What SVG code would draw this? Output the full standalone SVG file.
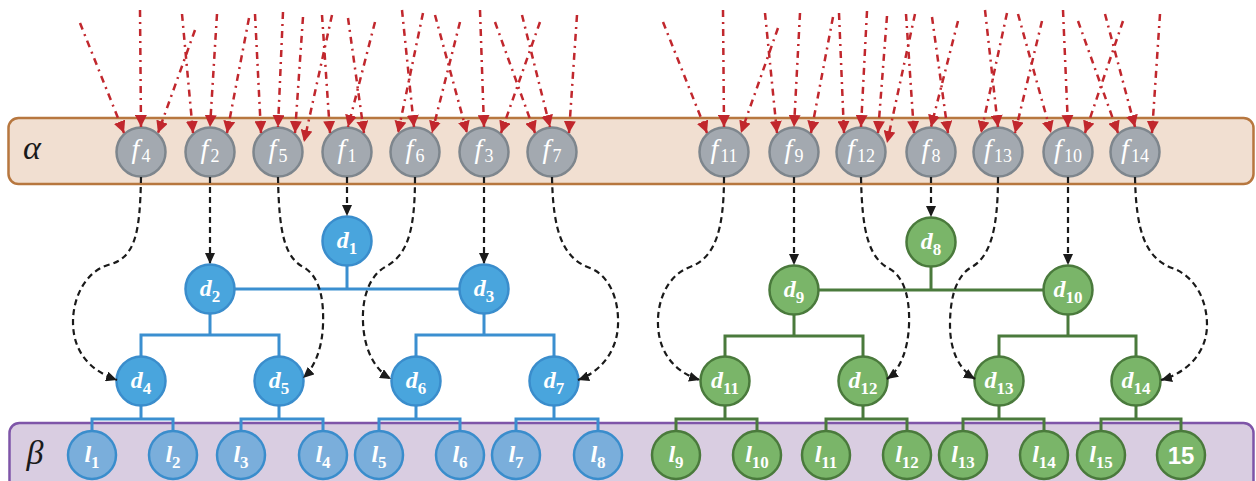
<svg xmlns="http://www.w3.org/2000/svg" width="1256" height="481" viewBox="0 0 1256 481">
<defs>
<marker id="ar" markerWidth="13" markerHeight="12" refX="12" refY="6" orient="auto" markerUnits="userSpaceOnUse"><path d="M0,0 L12,6 L0,12 z" fill="#c1272d"/></marker>
<marker id="ab" markerWidth="12" markerHeight="10" refX="11" refY="5" orient="auto" markerUnits="userSpaceOnUse"><path d="M0,0 L11,5 L0,10 z" fill="#1a1a1a"/></marker>
</defs>
<style>
.band-a{fill:#f1dfd1;stroke:#b7773f;stroke-width:2.5}
.band-b{fill:#d9cde1;stroke:#7e55a8;stroke-width:2.5}
.fn{fill:#a3a9b0;stroke:#7e868d;stroke-width:2.5}
.db{fill:#49a5dd;stroke:#3a8dcc;stroke-width:2.5}
.lb{fill:#7aaedb;stroke:#3a8dcc;stroke-width:2.5}
.dg{fill:#7ab569;stroke:#4a7a3c;stroke-width:2.5}
.tb{fill:none;stroke:#3b8fd0;stroke-width:3}
.tg{fill:none;stroke:#4a7a3c;stroke-width:3}
.red{fill:none;stroke:#c1272d;stroke-width:2.5;stroke-dasharray:7 5 2 5;marker-end:url(#ar)}
.blk{fill:none;stroke:#1a1a1a;stroke-width:2.2;stroke-dasharray:6 4;marker-end:url(#ab)}
text{font-family:"Liberation Serif","DejaVu Serif",serif;fill:#fff;text-anchor:middle}
.it{font-style:italic}
.fl{font-size:28px}
.fl .sub{font-size:18px;font-weight:normal;font-style:normal}
.dl{font-size:24px;font-weight:bold}
.sub{font-size:17px;font-style:normal}
.greek{fill:#1a1a1a;font-style:italic;font-size:34px}
.num{font-family:"Liberation Sans","DejaVu Sans",sans-serif;font-weight:bold;font-size:24px}
</style>

<g id="bands">
<rect id="alpha" class="band-a" x="8.5" y="118" width="1245" height="66" rx="10"/>
<rect id="beta" class="band-b" x="9.5" y="423" width="1244" height="72" rx="10"/>
<text class="greek" x="32" y="159">α</text>
<text class="greek" x="35" y="464">β</text>
</g>

<g id="tree-edges">
<path class="tb" d="M234.5,289 H459.5 M347,265.5 V289"/>
<path class="tb" d="M210,313.5 V335 M141,356.5 V335 H279 V356.5"/>
<path class="tb" d="M484,313.5 V335 M416,356.5 V335 H554 V356.5"/>
<path class="tb" d="M141,405.5 V419 M92,431 V419 H173 V431"/>
<path class="tb" d="M279,405.5 V419 M241,431 V419 H323 V431"/>
<path class="tb" d="M416,405.5 V419 M379,431 V419 H460 V431"/>
<path class="tb" d="M554,405.5 V419 M516,431 V419 H598 V431"/>
<path class="tg" d="M818.5,290 H1043.5 M931,266.5 V290"/>
<path class="tg" d="M794,314.5 V336 M725,356.5 V336 H863 V356.5"/>
<path class="tg" d="M1068,314.5 V336 M999,356.5 V336 H1136 V356.5"/>
<path class="tg" d="M725,405.5 V419 M676,431 V419 H757 V431"/>
<path class="tg" d="M863,405.5 V419 M826,431 V419 H907 V431"/>
<path class="tg" d="M999,405.5 V419 M963,431 V419 H1044 V431"/>
<path class="tg" d="M1136,405.5 V419 M1101,431 V419 H1181 V431"/>
</g>

<g id="f4"><circle class="fn" cx="141" cy="152" r="24.5"/><text class="fl" x="141" y="158"><tspan class="it">f</tspan><tspan class="sub" dx="2" dy="4">4</tspan></text></g>
<g id="f2"><circle class="fn" cx="210" cy="152" r="24.5"/><text class="fl" x="210" y="158"><tspan class="it">f</tspan><tspan class="sub" dx="2" dy="4">2</tspan></text></g>
<g id="f5"><circle class="fn" cx="278" cy="152" r="24.5"/><text class="fl" x="278" y="158"><tspan class="it">f</tspan><tspan class="sub" dx="2" dy="4">5</tspan></text></g>
<g id="f1"><circle class="fn" cx="347" cy="152" r="24.5"/><text class="fl" x="347" y="158"><tspan class="it">f</tspan><tspan class="sub" dx="2" dy="4">1</tspan></text></g>
<g id="f6"><circle class="fn" cx="415" cy="152" r="24.5"/><text class="fl" x="415" y="158"><tspan class="it">f</tspan><tspan class="sub" dx="2" dy="4">6</tspan></text></g>
<g id="f3"><circle class="fn" cx="484" cy="152" r="24.5"/><text class="fl" x="484" y="158"><tspan class="it">f</tspan><tspan class="sub" dx="2" dy="4">3</tspan></text></g>
<g id="f7"><circle class="fn" cx="552" cy="152" r="24.5"/><text class="fl" x="552" y="158"><tspan class="it">f</tspan><tspan class="sub" dx="2" dy="4">7</tspan></text></g>
<g id="f11"><circle class="fn" cx="724" cy="152" r="24.5"/><text class="fl" x="724" y="158"><tspan class="it">f</tspan><tspan class="sub" dx="2" dy="4">11</tspan></text></g>
<g id="f9"><circle class="fn" cx="794" cy="152" r="24.5"/><text class="fl" x="794" y="158"><tspan class="it">f</tspan><tspan class="sub" dx="2" dy="4">9</tspan></text></g>
<g id="f12"><circle class="fn" cx="861" cy="152" r="24.5"/><text class="fl" x="861" y="158"><tspan class="it">f</tspan><tspan class="sub" dx="2" dy="4">12</tspan></text></g>
<g id="f8"><circle class="fn" cx="931" cy="152" r="24.5"/><text class="fl" x="931" y="158"><tspan class="it">f</tspan><tspan class="sub" dx="2" dy="4">8</tspan></text></g>
<g id="f13"><circle class="fn" cx="998" cy="152" r="24.5"/><text class="fl" x="998" y="158"><tspan class="it">f</tspan><tspan class="sub" dx="2" dy="4">13</tspan></text></g>
<g id="f10"><circle class="fn" cx="1068" cy="152" r="24.5"/><text class="fl" x="1068" y="158"><tspan class="it">f</tspan><tspan class="sub" dx="2" dy="4">10</tspan></text></g>
<g id="f14"><circle class="fn" cx="1135" cy="152" r="24.5"/><text class="fl" x="1135" y="158"><tspan class="it">f</tspan><tspan class="sub" dx="2" dy="4">14</tspan></text></g>

<g id="d1"><circle class="db" cx="347" cy="241" r="24.5"/><text class="dl" x="347" y="248"><tspan class="it">d</tspan><tspan class="sub" dy="6">1</tspan></text></g>
<g id="d2"><circle class="db" cx="210" cy="289" r="24.5"/><text class="dl" x="210" y="296"><tspan class="it">d</tspan><tspan class="sub" dy="6">2</tspan></text></g>
<g id="d3"><circle class="db" cx="484" cy="289" r="24.5"/><text class="dl" x="484" y="296"><tspan class="it">d</tspan><tspan class="sub" dy="6">3</tspan></text></g>
<g id="d4"><circle class="db" cx="141" cy="381" r="24.5"/><text class="dl" x="141" y="388"><tspan class="it">d</tspan><tspan class="sub" dy="6">4</tspan></text></g>
<g id="d5"><circle class="db" cx="279" cy="381" r="24.5"/><text class="dl" x="279" y="388"><tspan class="it">d</tspan><tspan class="sub" dy="6">5</tspan></text></g>
<g id="d6"><circle class="db" cx="416" cy="381" r="24.5"/><text class="dl" x="416" y="388"><tspan class="it">d</tspan><tspan class="sub" dy="6">6</tspan></text></g>
<g id="d7"><circle class="db" cx="554" cy="381" r="24.5"/><text class="dl" x="554" y="388"><tspan class="it">d</tspan><tspan class="sub" dy="6">7</tspan></text></g>
<g id="d8"><circle class="dg" cx="931" cy="242" r="24.5"/><text class="dl" x="931" y="249"><tspan class="it">d</tspan><tspan class="sub" dy="6">8</tspan></text></g>
<g id="d9"><circle class="dg" cx="794" cy="290" r="24.5"/><text class="dl" x="794" y="297"><tspan class="it">d</tspan><tspan class="sub" dy="6">9</tspan></text></g>
<g id="d10"><circle class="dg" cx="1068" cy="290" r="24.5"/><text class="dl" x="1068" y="297"><tspan class="it">d</tspan><tspan class="sub" dy="6">10</tspan></text></g>
<g id="d11"><circle class="dg" cx="725" cy="381" r="24.5"/><text class="dl" x="725" y="388"><tspan class="it">d</tspan><tspan class="sub" dy="6">11</tspan></text></g>
<g id="d12"><circle class="dg" cx="863" cy="381" r="24.5"/><text class="dl" x="863" y="388"><tspan class="it">d</tspan><tspan class="sub" dy="6">12</tspan></text></g>
<g id="d13"><circle class="dg" cx="999" cy="381" r="24.5"/><text class="dl" x="999" y="388"><tspan class="it">d</tspan><tspan class="sub" dy="6">13</tspan></text></g>
<g id="d14"><circle class="dg" cx="1136" cy="381" r="24.5"/><text class="dl" x="1136" y="388"><tspan class="it">d</tspan><tspan class="sub" dy="6">14</tspan></text></g>

<g id="l1"><circle class="lb" cx="92" cy="455" r="24"/><text class="dl" x="92" y="462"><tspan class="it">l</tspan><tspan class="sub" dy="6">1</tspan></text></g>
<g id="l2"><circle class="lb" cx="173" cy="455" r="24"/><text class="dl" x="173" y="462"><tspan class="it">l</tspan><tspan class="sub" dy="6">2</tspan></text></g>
<g id="l3"><circle class="lb" cx="241" cy="455" r="24"/><text class="dl" x="241" y="462"><tspan class="it">l</tspan><tspan class="sub" dy="6">3</tspan></text></g>
<g id="l4"><circle class="lb" cx="323" cy="455" r="24"/><text class="dl" x="323" y="462"><tspan class="it">l</tspan><tspan class="sub" dy="6">4</tspan></text></g>
<g id="l5"><circle class="lb" cx="379" cy="455" r="24"/><text class="dl" x="379" y="462"><tspan class="it">l</tspan><tspan class="sub" dy="6">5</tspan></text></g>
<g id="l6"><circle class="lb" cx="460" cy="455" r="24"/><text class="dl" x="460" y="462"><tspan class="it">l</tspan><tspan class="sub" dy="6">6</tspan></text></g>
<g id="l7"><circle class="lb" cx="516" cy="455" r="24"/><text class="dl" x="516" y="462"><tspan class="it">l</tspan><tspan class="sub" dy="6">7</tspan></text></g>
<g id="l8"><circle class="lb" cx="598" cy="455" r="24"/><text class="dl" x="598" y="462"><tspan class="it">l</tspan><tspan class="sub" dy="6">8</tspan></text></g>
<g id="l9"><circle class="dg" cx="676" cy="455" r="24"/><text class="dl" x="676" y="462"><tspan class="it">l</tspan><tspan class="sub" dy="6">9</tspan></text></g>
<g id="l10"><circle class="dg" cx="757" cy="455" r="24"/><text class="dl" x="757" y="462"><tspan class="it">l</tspan><tspan class="sub" dy="6">10</tspan></text></g>
<g id="l11"><circle class="dg" cx="826" cy="455" r="24"/><text class="dl" x="826" y="462"><tspan class="it">l</tspan><tspan class="sub" dy="6">11</tspan></text></g>
<g id="l12"><circle class="dg" cx="907" cy="455" r="24"/><text class="dl" x="907" y="462"><tspan class="it">l</tspan><tspan class="sub" dy="6">12</tspan></text></g>
<g id="l13"><circle class="dg" cx="963" cy="455" r="24"/><text class="dl" x="963" y="462"><tspan class="it">l</tspan><tspan class="sub" dy="6">13</tspan></text></g>
<g id="l14"><circle class="dg" cx="1044" cy="455" r="24"/><text class="dl" x="1044" y="462"><tspan class="it">l</tspan><tspan class="sub" dy="6">14</tspan></text></g>
<g id="l15"><circle class="dg" cx="1101" cy="455" r="24"/><text class="dl" x="1101" y="462"><tspan class="it">l</tspan><tspan class="sub" dy="6">15</tspan></text></g>
<g id="l16"><circle class="dg" cx="1181" cy="455" r="24"/><text class="num" x="1181" y="464">15</text></g>

<g id="connectors">
<path class="blk" d="M347,177 V216"/>
<path class="blk" d="M210,177 V264"/>
<path class="blk" d="M484,177 V264"/>
<path class="blk" d="M794,177 V265"/>
<path class="blk" d="M931,177 V217"/>
<path class="blk" d="M1068,177 V265"/>
<path class="blk" d="M141,177 C140,235 135,258 108,265 C85,272 73,298 73,322 C73,350 88,370 117,380"/>
<path class="blk" d="M278,177 C279,235 285,258 305,268 C320,278 324,300 323,325 C322,350 314,368 303,378"/>
<path class="blk" d="M415,177 C415,230 408,255 385,267 C368,277 362,300 363,322 C364,350 375,370 391,379"/>
<path class="blk" d="M552,177 C553,230 562,258 590,268 C610,276 619,300 618,325 C617,352 600,372 578,380"/>
<path class="blk" d="M724,177 C724,230 715,258 690,267 C668,275 657,300 658,325 C659,355 677,373 700,380"/>
<path class="blk" d="M861,177 C862,230 868,258 890,269 C905,278 910,300 909,325 C908,350 900,370 887,379"/>
<path class="blk" d="M998,177 C998,230 990,258 970,268 C955,278 950,300 950,325 C950,352 960,370 975,379"/>
<path class="blk" d="M1135,177 C1136,230 1145,258 1172,268 C1195,276 1207,300 1207,325 C1207,350 1190,372 1161,380"/>

<path class="red" d="M80,23 L124,133"/>
<path class="red" d="M140,10 L141,127"/>
<path class="red" d="M195,30 L158,133"/>
<path class="red" d="M182,14 L193,133"/>
<path class="red" d="M217,14 L210,127"/>
<path class="red" d="M249,18 L227,133"/>
<path class="red" d="M255,14 L261,133"/>
<path class="red" d="M283,12 L278,127"/>
<path class="red" d="M303,17 L295,133"/>
<path class="red" d="M332,15 L304,142"/>
<path class="red" d="M322,15 L330,133"/>
<path class="red" d="M375,22 L348,127"/>
<path class="red" d="M348,18 L364,133"/>
<path class="red" d="M423,13 L398,133"/>
<path class="red" d="M402,10 L414,127"/>
<path class="red" d="M460,22 L432,133"/>
<path class="red" d="M435,15 L467,133"/>
<path class="red" d="M480,10 L484,127"/>
<path class="red" d="M540,22 L501,133"/>
<path class="red" d="M495,22 L535,133"/>
<path class="red" d="M522,15 L550,127"/>
<path class="red" d="M577,15 L569,133"/>

<path class="red" d="M663,22 L707,133"/>
<path class="red" d="M723,10 L724,127"/>
<path class="red" d="M778,28 L741,133"/>
<path class="red" d="M765,13 L777,133"/>
<path class="red" d="M800,13 L794,127"/>
<path class="red" d="M833,17 L811,133"/>
<path class="red" d="M839,13 L844,133"/>
<path class="red" d="M867,11 L861,127"/>
<path class="red" d="M887,16 L878,133"/>
<path class="red" d="M915,14 L887,143"/>
<path class="red" d="M906,14 L914,133"/>
<path class="red" d="M958,21 L931,127"/>
<path class="red" d="M932,17 L948,133"/>
<path class="red" d="M1007,13 L981,133"/>
<path class="red" d="M985,10 L998,127"/>
<path class="red" d="M1042,21 L1015,133"/>
<path class="red" d="M1018,14 L1051,133"/>
<path class="red" d="M1063,10 L1068,127"/>
<path class="red" d="M1123,21 L1085,133"/>
<path class="red" d="M1078,21 L1118,133"/>
<path class="red" d="M1105,14 L1135,127"/>
<path class="red" d="M1160,14 L1152,133"/>
</g>
</svg>
